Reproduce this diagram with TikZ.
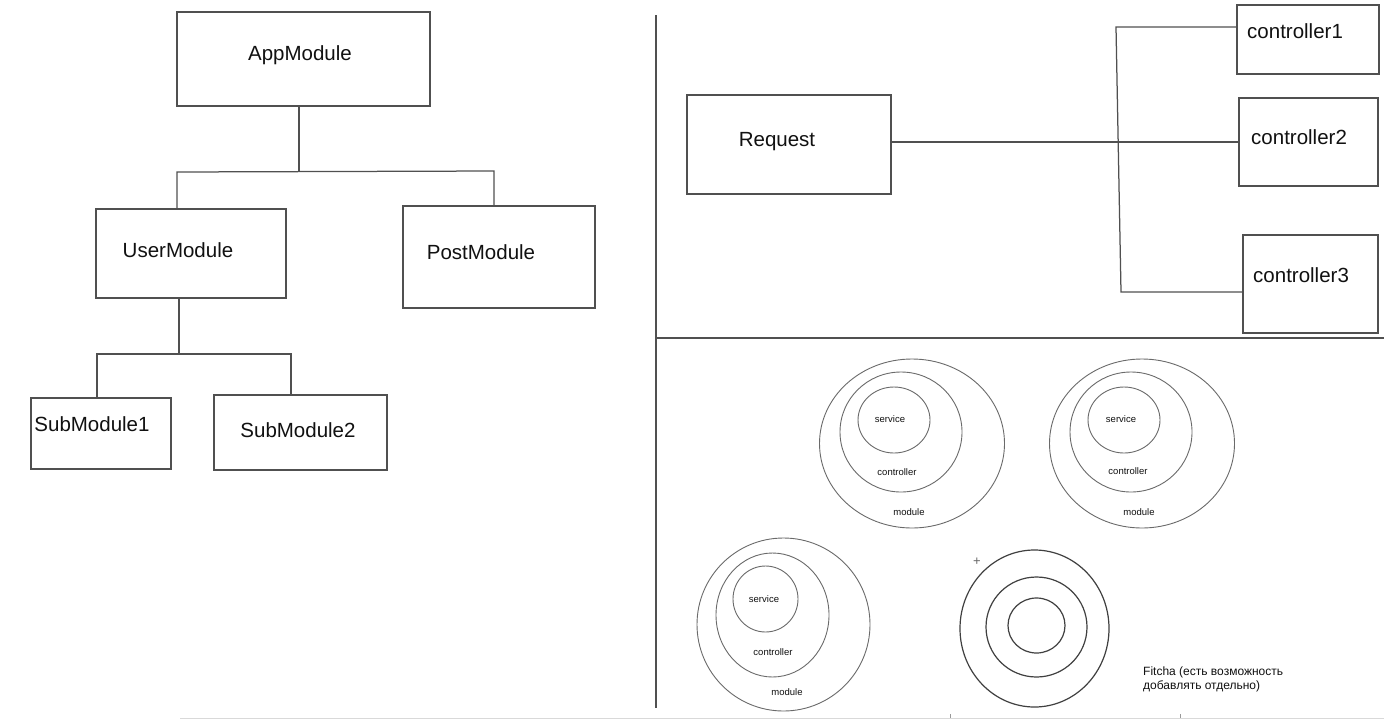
\documentclass[tikz,border=0pt]{standalone}
\usepackage{fontspec}
\setmainfont{Liberation Sans}
\usetikzlibrary{shapes.geometric}
\definecolor{ln}{HTML}{505050}
\definecolor{cl}{HTML}{6A6A6A}
\definecolor{tx}{HTML}{111111}
\tikzset{
  box/.style={draw=ln, line width=1.3pt, rectangle, inner sep=0pt},
  big/.style={text=tx, font=\fontsize{20.5}{24}\selectfont, inner sep=0pt},
  small/.style={text=tx, font=\fontsize{9.5}{11}\selectfont, inner sep=0pt},
  wire/.style={draw=ln, line width=1.25pt},
  ring/.style={draw=cl, line width=0.9pt, ellipse, inner sep=0pt},
  dring/.style={draw=black!75, line width=1.2pt, ellipse, inner sep=0pt},
}
\newcommand{\bx}[5]{\node[box, minimum width=#4pt, minimum height=#5pt] (#1) at (#2,#3) {};}
\begin{document}
\begin{tikzpicture}[x=1pt, y=-1pt]
\useasboundingbox[fill=white] (0,0) rectangle (1384,721);

% ---------- left tree ----------
\bx{app}{303.5}{59}{253}{94}
\bx{user}{191}{253.5}{190}{89}
\bx{post}{499}{257}{192}{102}
\bx{sub1}{101}{433.5}{140}{71}
\bx{sub2}{300.5}{432.5}{173}{75}
\node[big] (appT) at (300,55) {AppModule};
\node[big] (userT) at (178,250) {UserModule};
\node[big] (postT) at (481,252) {PostModule};
\node[big] (sub1T) at (92,424) {SubModule1};
\node[big] (sub2T) at (298,430) {SubModule2};

\coordinate (j1) at (299,172);
\coordinate (j1l) at (177,172);
\coordinate (j1r) at (494,171);
\draw[wire] (app.south -| j1) -- (j1);
\draw[wire] (j1l |- user.north) -- (j1l) -- (j1r) -- (j1r |- post.north);

\coordinate (j2) at (179,354);
\coordinate (j2l) at (97,354);
\coordinate (j2r) at (291,354);
\draw[wire] (user.south -| j2) -- (j2);
\draw[wire] (j2l |- sub1.north) -- (j2l) -- (j2r) -- (j2r |- sub2.north);

% ---------- dividers ----------
\coordinate (dvT) at (656,15);
\coordinate (dvB) at (656,708);
\coordinate (dhL) at (656,338);
\coordinate (dhR) at (1384,338);
\draw[wire] (dvT) -- (dvB);
\draw[wire] (dhL) -- (dhR);

% ---------- request / controllers ----------
\bx{req}{789}{144.5}{204}{99}
\bx{c1}{1308}{39.5}{142}{69}
\bx{c2}{1308.5}{142}{139}{88}
\bx{c3}{1310.5}{284}{135}{98}
\node[big] (reqT) at (777,142) {Request};
\node[big, anchor=west] (c1T) at (1247,31) {controller1};
\node[big, anchor=west] (c2T) at (1251,137) {controller2};
\node[big, anchor=west] (c3T) at (1253,275) {controller3};

\coordinate (bt) at (1116,27);
\coordinate (bb) at (1121,292);
\draw[wire] (req.east |- c2.west) -- (c2.west);
\draw[wire] (c1.west |- bt) -- (bt) -- (bb) -- (c3.west |- bb);

% ---------- circle groups ----------
\node[ring, minimum width=185pt, minimum height=169pt] (m1) at (912,443.5) {};
\node[ring, minimum width=122pt, minimum height=120pt] (k1) at (901,432) {};
\node[ring, minimum width=72pt, minimum height=66pt] (s1) at (894,420) {};
\node[small] (s1T) at (890,419) {service};
\node[small] (k1T) at (897,472) {controller};
\node[small] (m1T) at (909,512) {module};

\node[ring, minimum width=185pt, minimum height=169pt] (m2) at (1142,443.5) {};
\node[ring, minimum width=122pt, minimum height=120pt] (k2) at (1131,432) {};
\node[ring, minimum width=72pt, minimum height=66pt] (s2) at (1124,420) {};
\node[small] (s2T) at (1121,419) {service};
\node[small] (k2T) at (1128,471) {controller};
\node[small] (m2T) at (1139,512) {module};

\node[ring, minimum width=173pt, minimum height=173pt] (m3) at (783.5,624.5) {};
\node[ring, minimum width=113pt, minimum height=124pt] (k3) at (772.5,615) {};
\node[ring, minimum width=65pt, minimum height=66pt] (s3) at (765.5,599) {};
\node[small] (s3T) at (764,599) {service};
\node[small] (k3T) at (773,652) {controller};
\node[small] (m3T) at (787,692) {module};

\node[dring, minimum width=149pt, minimum height=157pt] (m4) at (1034.5,628.5) {};
\node[dring, minimum width=101pt, minimum height=100pt] (k4) at (1036.5,627) {};
\node[dring, minimum width=57pt, minimum height=55pt] (s4) at (1036.5,625.5) {};
\node[text=black!60, font=\fontsize{13}{13}\selectfont, inner sep=0pt] (plus) at (977,562) {+};
\node[text=tx, font=\fontsize{12}{14}\selectfont, anchor=north west, align=left, inner sep=0pt] (fitT) at (1143,667) {Fitcha (есть возможность\\добавлять отдельно)};

% ---------- faint bottom edge ----------
\coordinate (eL) at (180,718);
\coordinate (eR) at (1384,718);
\draw[black!15, line width=1pt] (eL) -- (eR);
\coordinate (t1) at (950,714);
\coordinate (t2) at (1180,714);
\draw[black!40, line width=0.8pt] (t1) -- (t1 |- eL);
\draw[black!40, line width=0.8pt] (t2) -- (t2 |- eL);
\end{tikzpicture}
\end{document}
